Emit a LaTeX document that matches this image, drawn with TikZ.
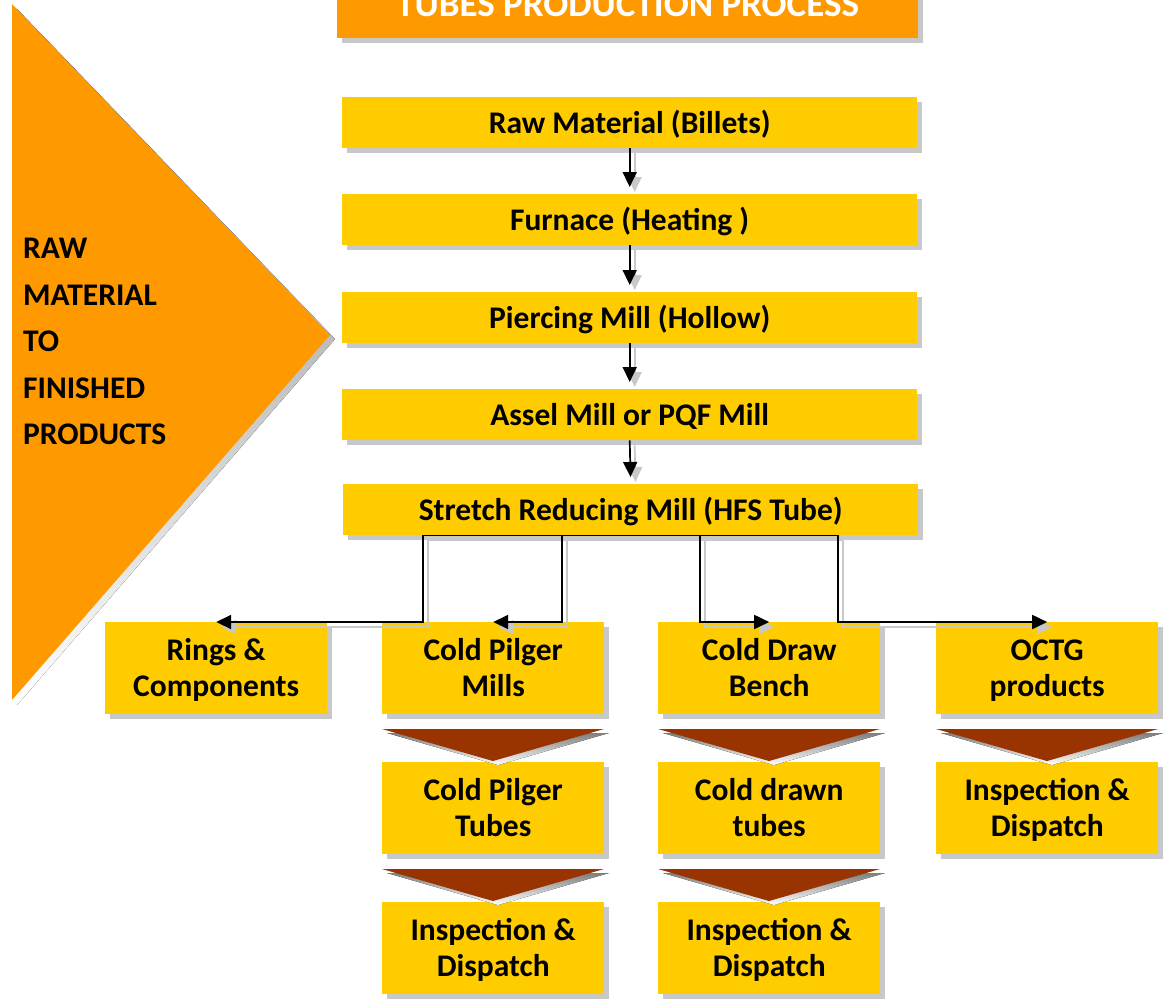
\documentclass[tikz,border=0pt]{standalone}
\usepackage{fontspec}
\setmainfont{Carlito}
\usetikzlibrary{arrows.meta,shadows}
\definecolor{boxgold}{HTML}{FFCC00}
\definecolor{orng}{HTML}{FF9900}
\definecolor{shade}{HTML}{C8C8C8}
\definecolor{brwn}{HTML}{993300}
\newcommand\mychev[2]{%
  \fill[shade] (#1+5,#2+4) -- (#1+227,#2+4) -- (#1+116,#2+36) -- cycle;
  \fill[brwn] (#1,#2) -- (#1+222,#2) -- (#1+111,#2+32) -- cycle;}
\newcommand\tp{\rule{0pt}{31pt}}
\newcommand\bt{\rule[-11pt]{0pt}{11pt}}
\begin{document}
\begin{tikzpicture}[x=1pt,y=-1pt,
  shd/.style={drop shadow={shadow xshift=5pt,shadow yshift=-5pt,fill=shade,opacity=1}},
  mainbox/.style={shd,fill=boxgold,anchor=north west,inner sep=0pt,text height=28pt,text depth=7pt,
    minimum width=575pt,minimum height=51pt,font=\bfseries\fontsize{31.5}{37}\selectfont},
  subbox/.style={shd,fill=boxgold,anchor=north west,inner sep=0pt,align=center,
    minimum width=222pt,minimum height=92pt,font=\bfseries\fontsize{31.5}{36}\selectfont},
  titlebox/.style={shd,fill=orng,anchor=north west,inner sep=0pt,text=white,
    minimum width=581pt,minimum height=68pt,font=\bfseries\fontsize{37}{40}\selectfont},
  conn/.style={-{Triangle[length=15pt,width=14pt]},line width=1.7pt},
  connshd/.style={conn,draw=shade,transform canvas={xshift=5pt,yshift=-5pt}},
  tritext/.style={anchor=base west,inner sep=0pt,font=\bfseries\fontsize{31.5}{37}\selectfont}
]
\useasboundingbox (0,0) rectangle (1169,998);
% big orange triangle
\fill[shade] (17,9) -- (335,339) -- (17,705) -- cycle;
\fill[orng] (12,4) -- (330,335) -- (12,700) -- cycle;
\node[tritext] (t1) at (23,258) {RAW};
\node[tritext] (t2) at (23,305) {MATERIAL};
\node[tritext] (t3) at (23,351) {TO};
\node[tritext] (t4) at (23,398) {FINISHED};
\node[tritext] (t5) at (23,444) {PRODUCTS};
% title
\node[titlebox] (title) at (337,-30) {TUBES PRODUCTION PROCESS};
% main column
\node[mainbox] (raw) at (342,97) {Raw Material (Billets)};
\node[mainbox] (fur) at (342,194) {Furnace (Heating )};
\node[mainbox] (pie) at (342,292) {Piercing Mill (Hollow)};
\node[mainbox] (ass) at (342,389) {Assel Mill or PQF Mill};
\node[mainbox] (srm) at (343,484) {Stretch Reducing Mill (HFS Tube)};
% branch row
\node[subbox] (ring) at (105,622) {\tp Rings \&\\Components\bt};
\node[subbox] (cpm) at (382,622) {\tp Cold Pilger\\Mills\bt};
\node[subbox] (cdb) at (658,622) {\tp Cold Draw\\Bench\bt};
\node[subbox] (octg) at (936,622) {\tp OCTG\\products\bt};
\node[subbox] (cpt) at (382,762) {\tp Cold Pilger\\Tubes\bt};
\node[subbox] (cdt) at (658,762) {\tp Cold drawn\\tubes\bt};
\node[subbox] (id3) at (936,762) {\tp Inspection \&\\Dispatch\bt};
\node[subbox] (id1) at (382,902) {\tp Inspection \&\\Dispatch\bt};
\node[subbox] (id2) at (658,902) {\tp Inspection \&\\Dispatch\bt};
% chevrons
\mychev{382}{729}
\mychev{658}{729}
\mychev{936}{729}
\mychev{382}{869}
\mychev{658}{869}
% vertical arrows (shadows, then arrows)
\foreach \a/\b in {raw/fur,fur/pie,pie/ass,ass/srm}{
  \draw[connshd,shorten >=7pt] (\a.south) -- (\b.north);
}
\foreach \a/\b in {raw/fur,fur/pie,pie/ass,ass/srm}{
  \draw[conn,shorten >=7pt] (\a.south) -- (\b.north);
}
% elbow connectors
\draw[connshd] (srm.south) -| (423,622) -- (ring.north);
\draw[connshd] (srm.south) -| (562,622) -- (cpm.north);
\draw[connshd] (srm.south) -| (700,622) -- (cdb.north);
\draw[connshd] (srm.south) -| (838,622) -- (octg.north);
\draw[conn] (srm.south) -| (423,622) -- (ring.north);
\draw[conn] (srm.south) -| (562,622) -- (cpm.north);
\draw[conn] (srm.south) -| (700,622) -- (cdb.north);
\draw[conn] (srm.south) -| (838,622) -- (octg.north);
\end{tikzpicture}
\end{document}
